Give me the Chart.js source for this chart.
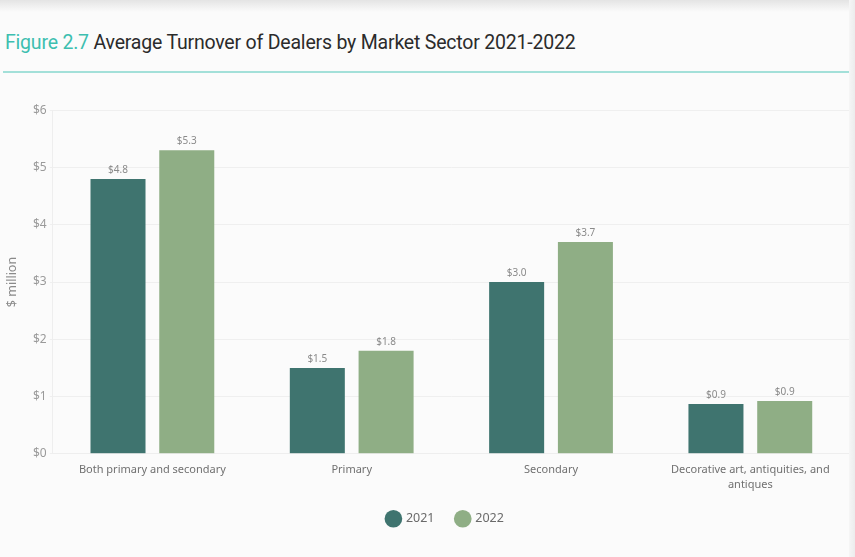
<!DOCTYPE html>
<html>
<head>
<meta charset="utf-8">
<script src="https://cdn.jsdelivr.net/npm/chart.js@4"></script>
<style>
    body { margin: 0; width: 855px; height: 557px; overflow: hidden; background: #fbfbfb; font-family: "Noto Sans", sans-serif; }
    #shade { position: absolute; left: 0; top: 0; width: 855px; height: 12px; background: linear-gradient(#e4e4e4, rgba(251,251,251,0)); }
    #edge { position: absolute; left: 849px; top: 0; width: 6px; height: 557px; background: linear-gradient(90deg, #f6f6f6, #ececec); }
    #title { position: absolute; left: 5px; top: 31px; font-family: "Roboto", sans-serif; font-size: 19.5px; color: #2b2b2b; letter-spacing: -0.2px; }
    #title span { color: #3dbfb0; }
    #rule { position: absolute; left: 3px; top: 71px; width: 848px; height: 2px; background: #a3e0d9; }
    #wrap { position: absolute; left: -3px; top: 100px; width: 853px; height: 438px; }
</style>
</head>
<body>
<div id="shade"></div>
<div id="title"><span>Figure 2.7</span> Average Turnover of Dealers by Market Sector 2021-2022</div>
<div id="rule"></div>
<div id="wrap"><canvas id="barChart"></canvas></div>
<div id="edge"></div>
<script>
var sectors = ['Both primary and secondary', 'Primary', 'Secondary', ['Decorative art, antiquities, and', 'antiques']];
var turnover_2021 = [4.8, 1.5, 3.0, 0.87];
var turnover_2022 = [5.3, 1.8, 3.7, 0.92];

//- value labels above bars -
var barLabels = {
    id: 'barLabels',
    afterLayout: function (chart) {
        // legend sits a little right of centre in the original
        chart.legend.left += 22;
        chart.legend.right += 22;
        chart.legend.top -= 3;
        chart.legend.bottom -= 3;
    },
    afterDatasetsDraw: function (chart) {
        var ctx = chart.ctx;
        ctx.save();
        ctx.font = '10px "Noto Sans"';
        ctx.fillStyle = '#8a8a8a';
        ctx.textAlign = 'center';
        ctx.textBaseline = 'bottom';
        chart.data.datasets.forEach(function (ds, i) {
            chart.getDatasetMeta(i).data.forEach(function (bar, j) {
                ctx.fillText('$' + ds.data[j].toFixed(1), bar.x, bar.y - 4);
            });
        });
        ctx.restore();
    }
};

var barCanvas = document.getElementById('barChart').getContext('2d');

new Chart(barCanvas, {
    type: 'bar',
    data: {
        labels: sectors,
        datasets: [{
            label: '2021',
            data: turnover_2021,
            backgroundColor: '#3f746f'
        }, {
            label: '2022',
            data: turnover_2022,
            backgroundColor: '#8fae85'
        }]
    },
    options: {
        responsive: true,
        maintainAspectRatio: false,
        animation: false,
        categoryPercentage: 0.69,
        barPercentage: 0.8,
        layout: { padding: { left: 0, right: 0, top: 8, bottom: 0 } },
        plugins: {
            tooltip: { enabled: false },
            legend: {
                position: 'bottom',
                labels: {
                    usePointStyle: true,
                    pointStyle: 'circle',
                    boxWidth: 13,
                    boxHeight: 13,
                    padding: 22,
                    color: '#6a6a6a',
                    font: { family: 'Noto Sans', size: 12.5 }
                }
            }
        },
        scales: {
            x: {
                grid: { display: false },
                border: { color: '#eeeeee' },
                ticks: { color: '#707070', padding: 1, font: { family: 'Noto Sans', size: 11, lineHeight: 1.35 }, maxRotation: 0 }
            },
            y: {
                min: 0,
                max: 6,
                ticks: {
                    stepSize: 1,
                    color: '#9a9a9a',
                    padding: 3,
                    font: { family: 'Noto Sans', size: 12 },
                    callback: function (v) { return '$' + v; }
                },
                grid: { color: '#efefef', tickLength: 3 },
                border: { color: '#eeeeee' },
                title: {
                    display: true,
                    text: '$ million',
                    color: '#8a8a8a',
                    padding: { top: 8, bottom: 10 },
                    font: { family: 'Noto Sans', size: 12.5 }
                }
            }
        }
    },
    plugins: [barLabels]
});
</script>
</body>
</html>
